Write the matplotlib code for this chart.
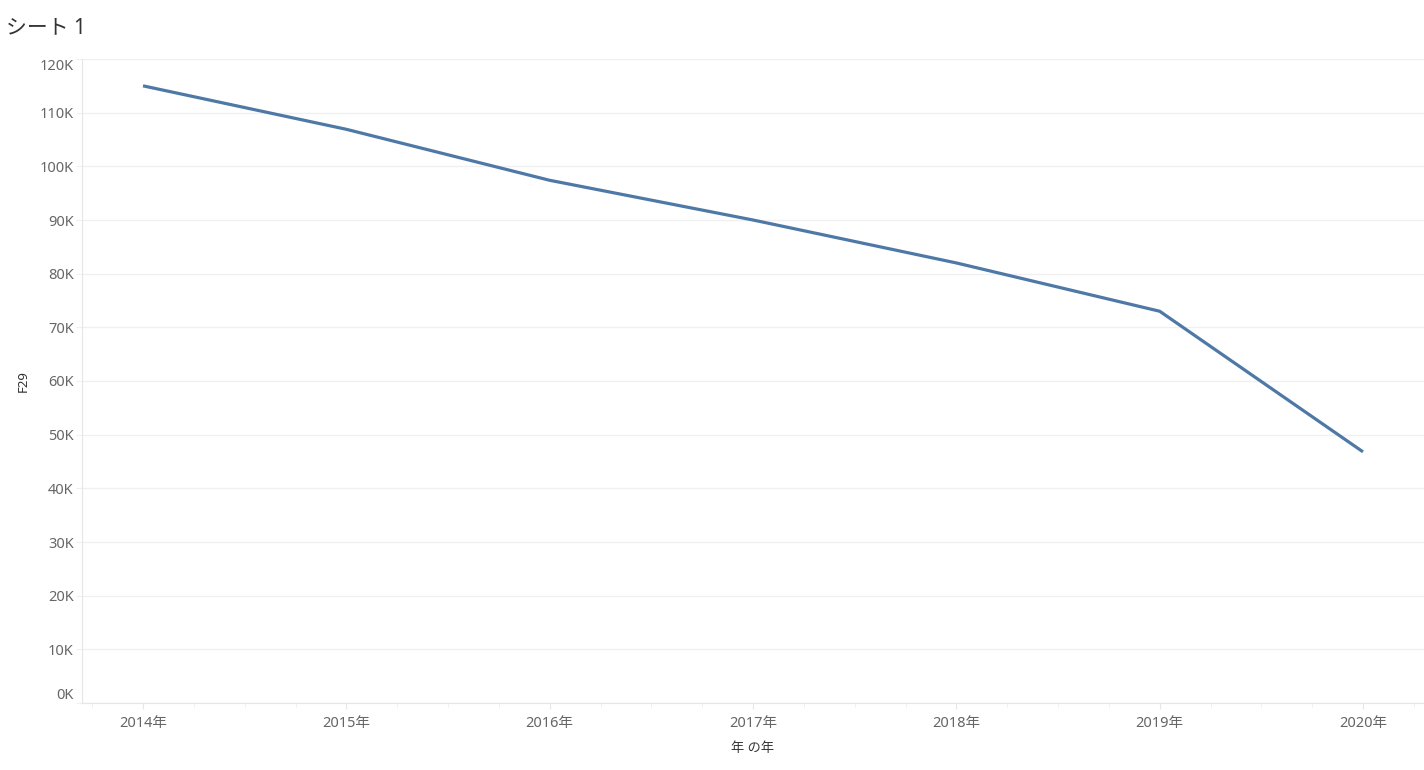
import matplotlib.pyplot as plt
import numpy as np

plt.rcParams['font.family'] = ['Noto Sans', 'Noto Sans CJK JP', 'DejaVu Sans']

years = ['2014年', '2015年', '2016年', '2017年', '2018年', '2019年', '2020年']
f29 = [115000, 106900, 97400, 90000, 82000, 73000, 46800]
y_ticks = [0, 10000, 20000, 30000, 40000, 50000, 60000, 70000, 80000, 90000, 100000, 110000, 120000]
y_labels = ['0K', '10K', '20K', '30K', '40K', '50K', '60K', '70K', '80K', '90K', '100K', '110K', '120K']

fig = plt.figure(figsize=(14.24, 7.70), dpi=100)
ax = fig.add_axes([82 / 1424, 1 - 703 / 770, (1424 - 82) / 1424, (703 - 59) / 770])

x = np.arange(len(years))
ax.plot(x, f29, color='#4e79a7', linewidth=2.3, solid_capstyle='butt')

ax.set_xlim(-0.3, len(years) - 1 + 0.3)
ax.set_ylim(0, 120000)
ax.set_yticks(y_ticks)
ax.set_yticklabels(y_labels)
ax.set_xticks(x)
ax.set_xticklabels(years)

ax.grid(axis='y', color='#f0f0f0', linewidth=1)
ax.set_axisbelow(True)
for side in ['top', 'right']:
    ax.spines[side].set_visible(False)
ax.spines['left'].set_color('#e6e6e6')
ax.spines['bottom'].set_color('#e6e6e6')

ax.tick_params(axis='y', length=4, color='#f0f0f0', labelsize=10.5, labelcolor='#666666', pad=2)
ax.tick_params(axis='x', length=4, color='#e6e6e6', labelsize=10.5, labelcolor='#666666', pad=5)
ax.set_xticks(np.arange(-0.25, len(years) - 1 + 0.3, 0.25), minor=True)
ax.tick_params(axis='x', which='minor', length=3, color='#eeeeee')

lbls = ax.get_yticklabels()
lbls[0].set_verticalalignment('bottom')
lbls[-1].set_verticalalignment('top')

ax.set_ylabel('F29', fontsize=9.5, color='#333333', labelpad=7)
ax.set_xlabel('年 の年', fontsize=9.5, color='#333333', labelpad=8)

fig.text(6 / 1424, 1 - 28 / 770, 'シート 1', fontsize=15, color='#333333', va='center', ha='left')

fig.savefig('out.png', dpi=100)
